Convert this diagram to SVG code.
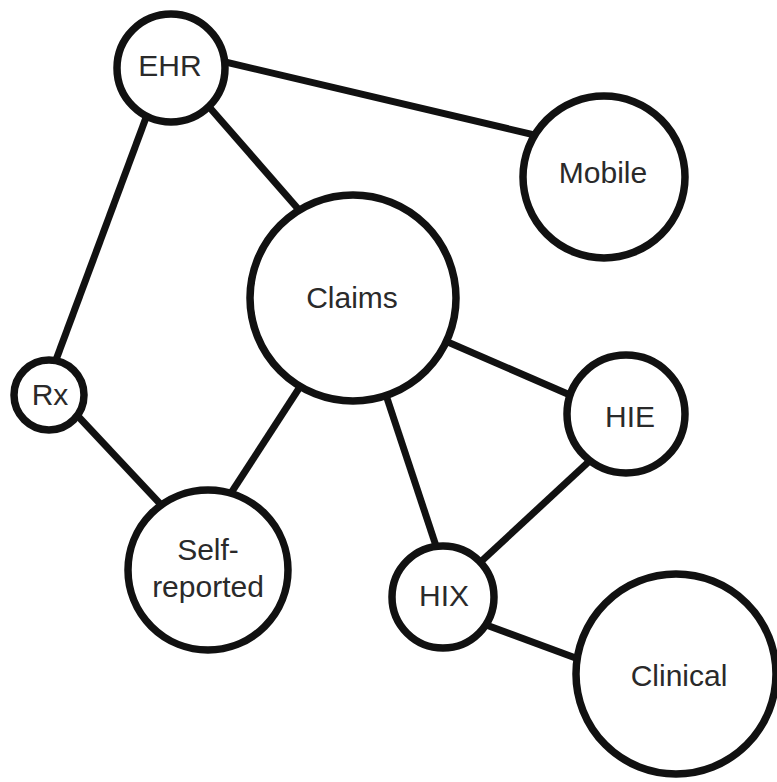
<svg xmlns="http://www.w3.org/2000/svg" width="777" height="782" viewBox="0 0 777 782">
  <style>
    .edge { stroke: #111; stroke-width: 7; stroke-linecap: butt; fill: none; }
    .node circle { fill: #fff; stroke: #111; stroke-width: 7.5; }
    .node text { font-family: "Liberation Sans", Arial, Helvetica, sans-serif; font-size: 30px; fill: #2a2a2a; text-anchor: middle; }
  </style>
  <rect width="777" height="782" fill="#fff"/>

  <!-- connectors, drawn first; their ends run under the white circle fills -->
  <g id="connectors">
    <line class="edge" x1="160" y1="80" x2="50" y2="376"/>
    <line class="edge" x1="190" y1="85" x2="320" y2="234"/>
    <line class="edge" x1="200" y1="56" x2="560" y2="141"/>
    <line class="edge" x1="60" y1="397" x2="180" y2="525"/>
    <line class="edge" x1="320" y1="356" x2="220" y2="510"/>
    <line class="edge" x1="420" y1="330" x2="600" y2="408"/>
    <line class="edge" x1="380" y1="377" x2="443" y2="567"/>
    <line class="edge" x1="610" y1="442" x2="460" y2="581"/>
    <line class="edge" x1="470" y1="619" x2="600" y2="667"/>
  </g>

  <g id="node-ehr" class="node">
    <circle cx="171" cy="68" r="54"/>
    <text x="170" y="76">EHR</text>
  </g>
  <g id="node-mobile" class="node">
    <circle cx="604" cy="177" r="81"/>
    <text x="603" y="183">Mobile</text>
  </g>
  <g id="node-claims" class="node">
    <circle cx="353" cy="298" r="103"/>
    <text x="352" y="308">Claims</text>
  </g>
  <g id="node-rx" class="node">
    <circle cx="49" cy="395" r="35"/>
    <text x="50" y="405">Rx</text>
  </g>
  <g id="node-hie" class="node">
    <circle cx="626" cy="414" r="59"/>
    <text x="630" y="427">HIE</text>
  </g>
  <g id="node-self-reported" class="node">
    <circle cx="208" cy="570" r="80"/>
    <text x="208" y="560">Self-</text>
    <text x="208" y="597">reported</text>
  </g>
  <g id="node-hix" class="node">
    <circle cx="443" cy="597" r="51"/>
    <text x="444" y="606">HIX</text>
  </g>
  <g id="node-clinical" class="node">
    <circle cx="676" cy="674" r="100"/>
    <text x="679" y="686">Clinical</text>
  </g>
</svg>
